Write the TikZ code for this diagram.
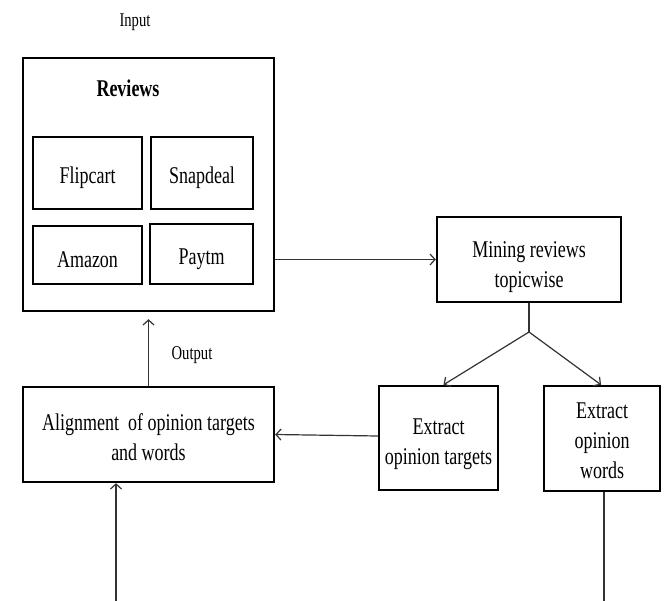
\documentclass[tikz,border=0pt]{standalone}
\usepackage{fontspec}
\setmainfont[FakeStretch=0.75]{Liberation Serif}
\usetikzlibrary{arrows.meta,calc}
\newcommand{\toprule}[1]{\rule{0pt}{#1}}
\begin{document}
\begin{tikzpicture}[x=1pt,y=-1pt,
  box/.style={draw=black,line width=2.4pt,rectangle,inner sep=0pt,align=center,font=\fontsize{24}{30}\selectfont},
  lowtext/.style={execute at begin node={\rule{0pt}{26pt}}},
  lbl/.style={inner sep=0pt,font=\fontsize{19.5}{22}\selectfont},
  conn/.style={draw=black!80,line width=1.2pt},
  arr/.style={conn,-{Straight Barb[length=5pt,width=11pt,line width=1.2pt]}}]
\useasboundingbox (0,0) rectangle (668,601);
\node[lbl] (input) at (135,22) {Input};
\node[draw=black,line width=2.4pt,rectangle,inner sep=0pt,minimum width=251pt,minimum height=253pt] (reviews) at (148.5,184.5) {};
\node[inner sep=0pt,font=\fontsize{24}{30}\selectfont\bfseries] (rtitle) at (128,88) {Reviews};
\node[box,lowtext,minimum width=109pt,minimum height=72pt] (flip) at (87.5,173) {Flipcart};
\node[box,lowtext,minimum width=102pt,minimum height=72pt] (snap) at (202,173) {Snapdeal};
\node[box,lowtext,minimum width=109pt,minimum height=58pt] (amaz) at (87.5,255) {Amazon};
\node[box,lowtext,minimum width=103pt,minimum height=60pt] (paytm) at (201.5,254) {Paytm};
\node[box,minimum width=184pt,minimum height=85pt] (mining) at (529,259.5) {\toprule{32pt}Mining reviews\\topicwise};
\coordinate (split) at (529,332);
\node[box,minimum width=119pt,minimum height=104pt] (targets) at (438.5,438) {\toprule{28pt}Extract\\opinion targets};
\node[box,minimum width=116pt,minimum height=105pt] (words) at (602,438.5) {\toprule{21pt}Extract\\opinion\\words};
\node[box,minimum width=251pt,minimum height=95pt] (align) at (148.5,434.5) {\toprule{22pt}Alignment\ \ of opinion targets\\and words};
\node[lbl] (output) at (192,355) {Output};
\coordinate (inA) at (116,601);
\coordinate (outW) at (604,601);
\draw[arr] (reviews.east |- mining.west) -- (mining.west);
\draw[conn] (mining.south) -- (split);
\draw[arr] (split) -- ([xshift=5pt]targets.north);
\draw[arr] (split) -- ([xshift=-1pt]words.north);
\draw[arr] ([yshift=2pt]targets.west) -- (align.east);
\draw[arr] (align.north) -- ([yshift=-7pt]reviews.south);
\draw[arr] (inA) -- (inA |- align.south);
\draw[conn] ([xshift=2pt]words.south) -- (outW);
\end{tikzpicture}
\end{document}
